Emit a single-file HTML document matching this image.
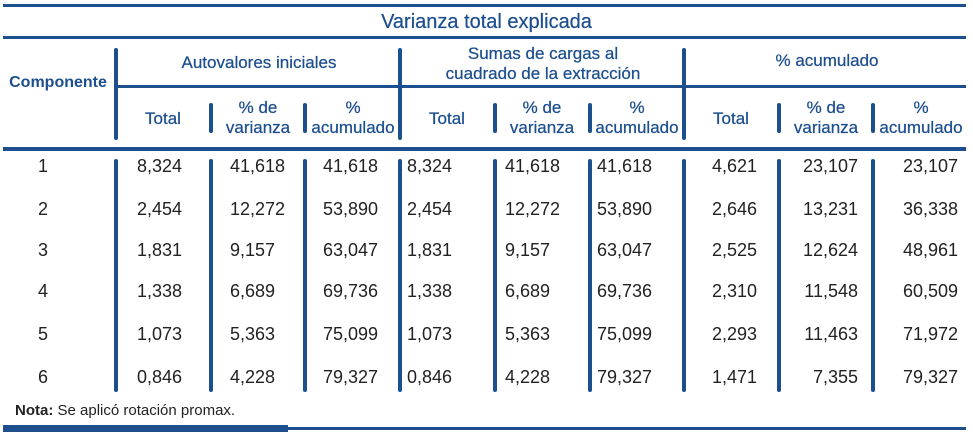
<!DOCTYPE html>
<html><head><meta charset="utf-8"><style>
body{margin:0;width:973px;height:434px;background:#fff;position:relative;overflow:hidden;font-family:"Liberation Sans",sans-serif}
.a{position:absolute;white-space:nowrap}
.h{color:#1d4f8e;font-size:17px;text-align:center;line-height:20px;-webkit-text-stroke:0.25px #1d4f8e}
.d{color:#222;font-size:18px;line-height:20px}
.l{position:absolute;background:#1d4f8e}
.v{position:absolute;background:#1d4f8e;width:4px;border-radius:2px}
</style></head><body>
<div class="l" style="left:3px;top:4px;width:963px;height:3px"></div>
<div class="a h" style="left:0;width:973px;top:10px;font-size:20px;line-height:24px">Varianza total explicada</div>
<div class="l" style="left:3px;top:36px;width:963px;height:3px"></div>
<div class="l" style="left:117px;top:85px;width:849px;height:3px"></div>
<div class="l" style="left:3px;top:147px;width:963px;height:4px"></div>
<div class="l" style="left:3px;top:427px;width:963px;height:3px"></div>
<div class="l" style="left:3px;top:425px;width:285px;height:7px"></div>

<div class="a h" style="left:0;width:116px;top:73px;font-weight:bold;font-size:16px;-webkit-text-stroke:0">Componente</div>
<div class="a h" style="left:118px;width:282px;top:53px">Autovalores iniciales</div>
<div class="a h" style="left:402px;width:282px;top:44px">Sumas de cargas al<br>cuadrado de la extracción</div>
<div class="a h" style="left:686px;width:282px;top:51px">% acumulado</div>

<div class="v" style="left:114px;top:48px;height:92px"></div>
<div class="v" style="left:398px;top:48px;height:92px"></div>
<div class="v" style="left:682px;top:48px;height:92px"></div>
<div class="v" style="left:209px;top:103px;height:30px"></div>
<div class="v" style="left:303px;top:103px;height:30px"></div>
<div class="v" style="left:493px;top:103px;height:30px"></div>
<div class="v" style="left:588px;top:103px;height:30px"></div>
<div class="v" style="left:777px;top:103px;height:30px"></div>
<div class="v" style="left:871px;top:103px;height:30px"></div>

<div class="a h" style="left:118px;width:90px;top:109px">Total</div>
<div class="a h" style="left:212px;width:92px;top:98px">% de<br>varianza</div>
<div class="a h" style="left:307px;width:92px;top:98px">%<br>acumulado</div>
<div class="a h" style="left:402px;width:90px;top:109px">Total</div>
<div class="a h" style="left:496px;width:92px;top:98px">% de<br>varianza</div>
<div class="a h" style="left:591px;width:92px;top:98px">%<br>acumulado</div>
<div class="a h" style="left:686px;width:90px;top:109px">Total</div>
<div class="a h" style="left:780px;width:92px;top:98px">% de<br>varianza</div>
<div class="a h" style="left:875px;width:92px;top:98px">%<br>acumulado</div>

<div class="v" style="left:114px;top:159px;height:233px"></div>
<div class="v" style="left:209px;top:159px;height:233px"></div>
<div class="v" style="left:303px;top:159px;height:233px"></div>
<div class="v" style="left:398px;top:159px;height:233px"></div>
<div class="v" style="left:493px;top:159px;height:233px"></div>
<div class="v" style="left:588px;top:159px;height:233px"></div>
<div class="v" style="left:682px;top:159px;height:233px"></div>
<div class="v" style="left:777px;top:159px;height:233px"></div>
<div class="v" style="left:871px;top:159px;height:233px"></div>

<div id="rows"></div>
<div class="a" style="left:15px;top:402px;font-size:15px;color:#222"><b>Nota:</b> Se aplicó rotación promax.</div>
<script>
var R=[["1","8,324","41,618","41,618","8,324","41,618","41,618","4,621","23,107","23,107"],
["2","2,454","12,272","53,890","2,454","12,272","53,890","2,646","13,231","36,338"],
["3","1,831","9,157","63,047","1,831","9,157","63,047","2,525","12,624","48,961"],
["4","1,338","6,689","69,736","1,338","6,689","69,736","2,310","11,548","60,509"],
["5","1,073","5,363","75,099","1,073","5,363","75,099","2,293","11,463","71,972"],
["6","0,846","4,228","79,327","0,846","4,228","79,327","1,471","7,355","79,327"]];
var Y=[156,199,240,281,324,367];
var L=[137,230,323,407,505,597];
var RR=[757,858,958];
var h="";
R.forEach(function(r,i){
h+='<div class="a d" style="left:0;width:86px;text-align:center;top:'+Y[i]+'px">'+r[0]+'</div>';
for(var j=0;j<6;j++)h+='<div class="a d" style="left:'+L[j]+'px;top:'+Y[i]+'px">'+r[j+1]+'</div>';
for(var j=0;j<3;j++)h+='<div class="a d" style="left:'+(RR[j]-100)+'px;width:100px;text-align:right;top:'+Y[i]+'px">'+r[j+7]+'</div>';
});
document.getElementById('rows').innerHTML=h;
</script>
</body></html>
